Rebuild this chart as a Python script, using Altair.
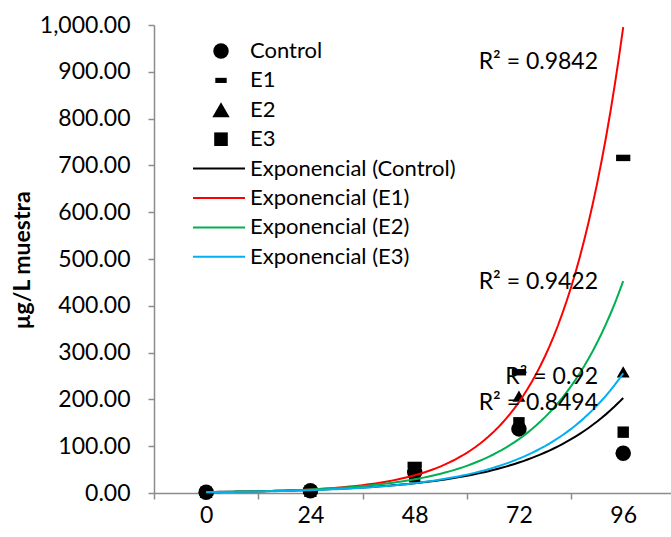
import altair as alt
import numpy as np
import pandas as pd

# ---- data ----
series = ["Control", "E1", "E2", "E3"]
times = [0, 24, 48, 72, 96]
control = [1.5, 5, 45, 137, 85]
e1 = [1.5, 4.7, 60, 258, 716]
e2 = [1.96, 4.1, 50, 207, 259]
e3 = [1.58, 3.8, 35, 150, 130]
values = [control, e1, e2, e3]

line_colors = ["#000000", "#FF0000", "#00B050", "#00B0F0"]
trend_names = ["Exponencial (Control)", "Exponencial (E1)", "Exponencial (E2)", "Exponencial (E3)"]
r2_text = ["R² = 0.8494", "R² = 0.9842", "R² = 0.9422", "R² = 0.92"]
r2_at_y = [192, 921, 451, 248]
r2_at_x = [90.2, 90.2, 90.2, 90.2]
x_labels = [0, 24, 48, 72, 96]
x_ticks = [-12, 12, 36, 60, 84]
y_ticks = list(range(0, 1001, 100))

FONT = "Lato"
AX = "#8C8C8C"
NUM_SIZE = 23
LEG_SIZE = 22

pts = pd.DataFrame(
    [{"series": s, "time": t, "value": v} for s, vs in zip(series, values) for t, v in zip(times, vs)]
)

# Exponential trendlines (least squares on ln y, as a spreadsheet does)
rows = []
grid = np.linspace(0, 96, 97)
for s, vs in zip(series, values):
    b, lna = np.polyfit(np.array(times, float), np.log(np.array(vs, float)), 1)
    for t in grid:
        rows.append({"series": s, "t": float(t), "fit": float(np.exp(lna + b * t))})
fits = pd.DataFrame(rows)

r2 = pd.DataFrame({"label": r2_text, "x": r2_at_x, "y": r2_at_y})

xscale = alt.Scale(domain=[-12, 107], nice=False, zero=False)
yscale = alt.Scale(domain=[0, 1000], nice=False)

def yenc(field):
    return alt.Y(
        f"{field}:Q",
        scale=yscale,
        axis=alt.Axis(
            values=y_ticks, format=",.2f", grid=False,
            domainColor=AX, tickColor=AX, tickSize=6, domainWidth=1.5, tickWidth=1.5,
            labelFont=FONT, labelFontSize=NUM_SIZE, labelColor="#000", labelPadding=18,
            title="µg/L muestra", titleFont=FONT, titleFontSize=23, titleFontWeight="bold",
            titleColor="#000", titleAngle=-90, titleX=-132, titleY=235,
            titleAlign="center", titleBaseline="middle",
        ),
    )

dash = "M-1,-0.45L1,-0.45L1,0.45L-1,0.45Z"
shape_range = ["circle", dash, "triangle-up", "square"]
size_range = [240, 130, 300, 185]

points = alt.Chart(pts).mark_point(filled=True, opacity=1, color="#000").encode(
    x=alt.X("time:Q", scale=xscale,
            axis=alt.Axis(values=x_labels, orient="bottom", ticks=False, tickSize=0, domain=False,
                          grid=False, labelFont=FONT, labelFontSize=NUM_SIZE, labelColor="#000",
                          labelPadding=11, title=None)),
    y=yenc("value"),
    shape=alt.Shape("series:N", scale=alt.Scale(domain=series, range=shape_range), legend=None),
    size=alt.Size("series:N", scale=alt.Scale(domain=series, range=size_range), legend=None),
)

lines = alt.Chart(fits).mark_line(strokeWidth=2).encode(
    x=alt.X("t:Q", scale=xscale,
            axis=alt.Axis(values=x_ticks, orient="bottom", labels=False, ticks=True, tickSize=6,
                          tickColor=AX, domainColor=AX, domainWidth=1.5, tickWidth=1.5,
                          grid=False, title=None)),
    y=yenc("fit"),
    color=alt.Color("series:N", scale=alt.Scale(domain=series, range=line_colors), legend=None),
)

r2_layer = alt.Chart(r2).mark_text(
    align="right", baseline="middle", font=FONT, fontSize=NUM_SIZE, color="#000"
).encode(
    x=alt.X("x:Q", scale=xscale, axis=None),
    y=yenc("y"),
    text="label:N",
)

# ---- custom legend (top-left inside the plot) ----
row0, step = 26, 29.4
legend_layers = []
for i, s in enumerate(series):
    yy = row0 + i * step
    legend_layers.append(
        alt.Chart(pd.DataFrame({"label": [s]})).mark_point(
            filled=True, opacity=1, color="#000", shape=shape_range[i], size=size_range[i]
        ).encode(x=alt.value(67), y=alt.value(yy))
    )
    legend_layers.append(
        alt.Chart(pd.DataFrame({"label": [s]})).mark_text(
            align="left", baseline="middle", font=FONT, fontSize=LEG_SIZE, color="#000"
        ).encode(x=alt.value(96), y=alt.value(yy), text="label:N")
    )
for j, (name, col) in enumerate(zip(trend_names, line_colors)):
    yy = row0 + (4 + j) * step
    legend_layers.append(
        alt.Chart(pd.DataFrame({"label": [name]})).mark_rule(color=col, strokeWidth=2).encode(
            x=alt.value(39), x2=alt.value(91), y=alt.value(yy)
        )
    )
    legend_layers.append(
        alt.Chart(pd.DataFrame({"label": [name]})).mark_text(
            align="left", baseline="middle", font=FONT, fontSize=LEG_SIZE, color="#000"
        ).encode(x=alt.value(96), y=alt.value(yy), text="label:N")
    )

chart = alt.layer(points, lines, r2_layer, *legend_layers).resolve_axis(
    x="independent"
).properties(
    width=517, height=468,
    autosize=alt.AutoSizeParams(type="none"),
    padding={"left": 154, "top": 25, "right": 0, "bottom": 44},
    background="white",
).configure_view(stroke=None)

chart.save("out.html", embed_options={"renderer": "svg", "actions": False})
